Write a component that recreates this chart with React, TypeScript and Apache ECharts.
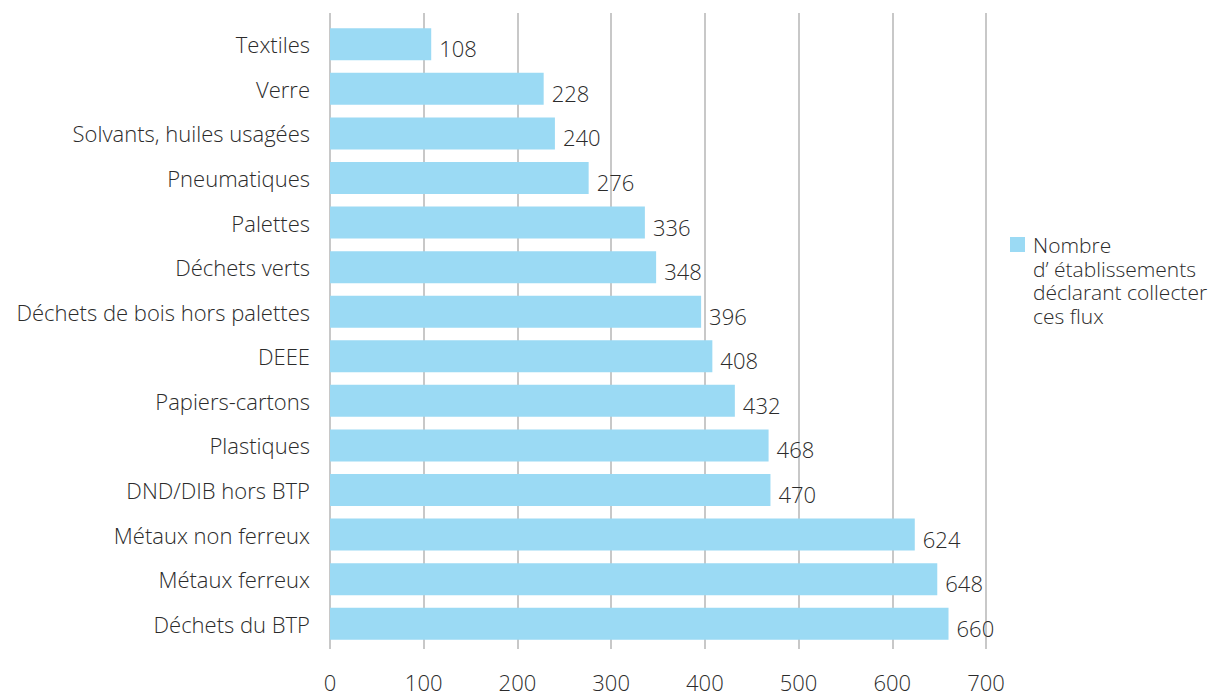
import React, { useEffect, useRef } from "react";
import * as echarts from "echarts";

const categories = [
  "Textiles",
  "Verre",
  "Solvants, huiles usagées",
  "Pneumatiques",
  "Palettes",
  "Déchets verts",
  "Déchets de bois hors palettes",
  "DEEE",
  "Papiers-cartons",
  "Plastiques",
  "DND/DIB hors BTP",
  "Métaux non ferreux",
  "Métaux ferreux",
  "Déchets du BTP",
];
const values = [108, 228, 240, 276, 336, 348, 396, 408, 432, 468, 470, 624, 648, 660];
const seriesName = "Nombre d’ établissements déclarant collecter ces flux";
const legendLines = ["Nombre", "d’ établissements", "déclarant collecter", "ces flux"];
const xMin = 0;
const xMax = 700;
const xStep = 100;

const FONT = "'Open Sans', Lato, sans-serif";
const W = 300;
const FS = 22;
const TEXT = "#2b2b2b";
const GRID = "#c8c8c8";
const BAR = "#9bdaf4";

export default function App() {
  const ref = useRef<HTMLDivElement>(null);
  useEffect(() => {
    if (!ref.current) return;
    const chart = echarts.init(ref.current, undefined, { renderer: "svg" });
    chart.setOption({
      animation: false,
      textStyle: { fontFamily: FONT, fontWeight: W },
      grid: { left: 330, right: 236, top: 22, bottom: 49, containLabel: false },
      xAxis: [
        {
          type: "value",
          min: xMin,
          max: xMax,
          interval: xStep,
          position: "bottom",
          axisLine: { show: false },
          axisTick: { show: true, length: 3, lineStyle: { color: GRID, width: 2 } },
          splitLine: { show: true, lineStyle: { color: GRID, width: 2 } },
          axisLabel: {
            color: TEXT,
            fontSize: FS,
            fontFamily: FONT,
            fontWeight: W,
            margin: 25,
            lineHeight: 22,
          },
        },
        {
          type: "value",
          min: xMin,
          max: xMax,
          interval: xStep,
          position: "top",
          axisLine: { show: false },
          axisTick: { show: true, length: 9, lineStyle: { color: GRID, width: 2 } },
          splitLine: { show: false },
          axisLabel: { show: false },
        },
      ],
      yAxis: {
        type: "category",
        data: categories,
        inverse: true,
        axisLine: { show: false },
        axisTick: { show: false },
        axisLabel: { color: TEXT, fontSize: FS, fontFamily: FONT, fontWeight: W, margin: 20 },
      },
      series: [
        {
          name: seriesName,
          type: "bar",
          data: values,
          barWidth: 32,
          itemStyle: { color: BAR },
          label: {
            show: true,
            position: "right",
            distance: 8,
            offset: [0, 4],
            color: TEXT,
            fontSize: FS,
            fontFamily: FONT,
            fontWeight: W,
          },
        },
      ],
      graphic: [
        { type: "rect", left: 1010, top: 237, shape: { width: 15, height: 15 }, style: { fill: BAR } },
        {
          type: "text",
          left: 1033,
          top: 233,
          style: {
            text: legendLines.join("\n"),
            fill: TEXT,
            font: `${W} 21px ${FONT}`,
            lineHeight: 23.7,
          },
        },
      ],
    });
    return () => chart.dispose();
  }, []);
  return <div ref={ref} style={{ width: 1222, height: 695, position: "absolute", left: 0, top: 0 }} />;
}
